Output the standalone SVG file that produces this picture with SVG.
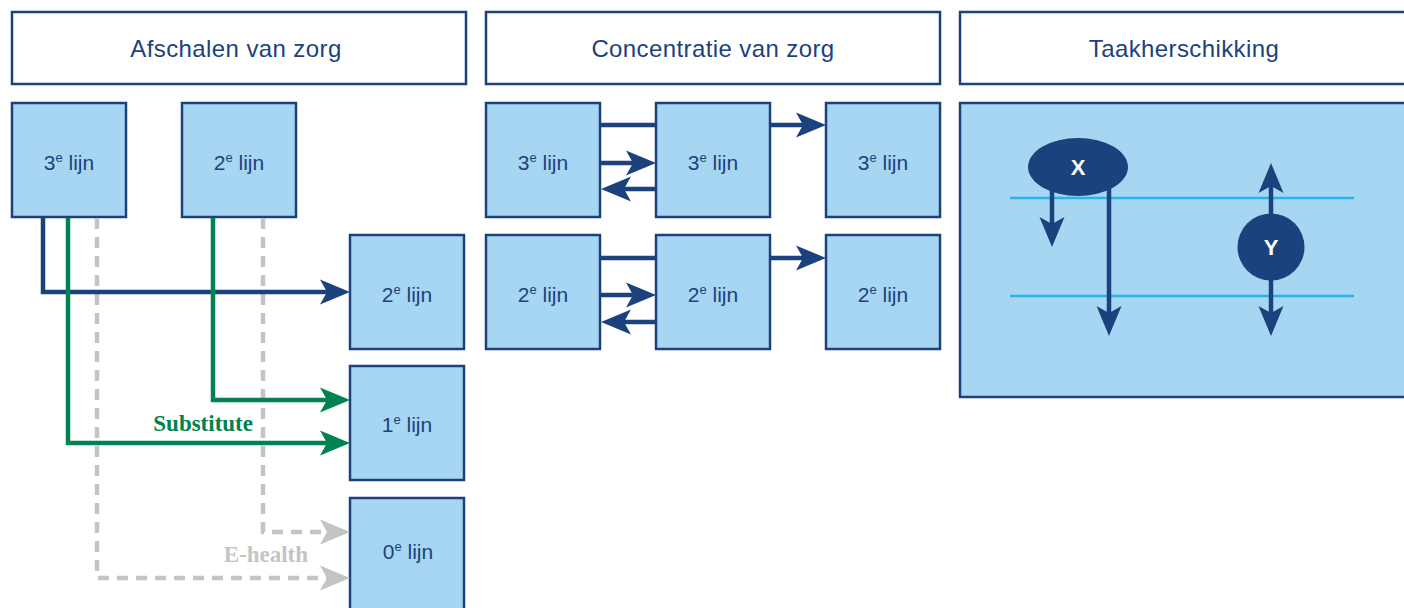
<svg xmlns="http://www.w3.org/2000/svg" width="1404" height="608" viewBox="0 0 1404 608">
  <style>
    .hdr { fill: #ffffff; stroke: #1c427e; stroke-width: 2.5; }
    .box { fill: #a7d6f2; stroke: #1c427e; stroke-width: 2.5; }
    .hdr-t { font-family: "Liberation Sans", Arial, sans-serif; font-size: 24px; fill: #1c427e; text-anchor: middle; letter-spacing: 0.4px; }
    .lbl { font-family: "Liberation Sans", Arial, sans-serif; font-size: 21px; fill: #1c427e; text-anchor: middle; }
    .sup { font-size: 13px; }
    .blue { fill: none; stroke: #1c427e; stroke-width: 4.5; }
    .green { fill: none; stroke: #008251; stroke-width: 4.5; }
    .gray { fill: none; stroke: #c4c4c4; stroke-width: 4.5; stroke-dasharray: 11 8; }
    .level { stroke: #2ab3e6; stroke-width: 2.5; }
    .tag { font-family: "Liberation Serif", "Times New Roman", serif; font-size: 23px; font-weight: bold; text-anchor: end; }
    .dot { fill: #1c427e; }
    .dot-t { font-family: "Liberation Sans", Arial, sans-serif; font-size: 22px; font-weight: bold; fill: #ffffff; text-anchor: middle; }
  </style>
  <defs>
    <marker id="ahBlue" markerUnits="userSpaceOnUse" markerWidth="30" markerHeight="26" viewBox="0 0 30 26" refX="20" refY="13" orient="auto">
      <path d="M0,0.5 L30,13 L0,25.5 L7,13 z" fill="#1c427e"/>
    </marker>
    <marker id="ahGreen" markerUnits="userSpaceOnUse" markerWidth="30" markerHeight="26" viewBox="0 0 30 26" refX="20" refY="13" orient="auto">
      <path d="M0,0.5 L30,13 L0,25.5 L7,13 z" fill="#008251"/>
    </marker>
    <marker id="ahGray" markerUnits="userSpaceOnUse" markerWidth="30" markerHeight="26" viewBox="0 0 30 26" refX="20" refY="13" orient="auto">
      <path d="M0,0.5 L30,13 L0,25.5 L7,13 z" fill="#c4c4c4"/>
    </marker>
  </defs>

  <rect width="1404" height="608" fill="#ffffff"/>

  <!-- column headers -->
  <g id="hdr-afschalen">
    <rect class="hdr" x="12" y="12" width="454" height="72"/>
    <text class="hdr-t" x="236" y="57">Afschalen van zorg</text>
  </g>
  <g id="hdr-concentratie">
    <rect class="hdr" x="486" y="12" width="454" height="72"/>
    <text class="hdr-t" x="713" y="57">Concentratie van zorg</text>
  </g>
  <g id="hdr-taak">
    <rect class="hdr" x="960" y="12" width="450" height="72"/>
    <text class="hdr-t" x="1184" y="57">Taakherschikking</text>
  </g>

  <!-- Afschalen van zorg: nodes -->
  <g id="a-3e">
    <rect class="box" x="12" y="103" width="114" height="114"/>
    <text class="lbl" x="69" y="170">3<tspan class="sup" dy="-8">e</tspan><tspan dy="8"> lijn</tspan></text>
  </g>
  <g id="a-2e-top">
    <rect class="box" x="182" y="103" width="114" height="114"/>
    <text class="lbl" x="239" y="170">2<tspan class="sup" dy="-8">e</tspan><tspan dy="8"> lijn</tspan></text>
  </g>
  <g id="a-2e">
    <rect class="box" x="350" y="235" width="114" height="114"/>
    <text class="lbl" x="407" y="302">2<tspan class="sup" dy="-8">e</tspan><tspan dy="8"> lijn</tspan></text>
  </g>
  <g id="a-1e">
    <rect class="box" x="350" y="366" width="114" height="114"/>
    <text class="lbl" x="407" y="432">1<tspan class="sup" dy="-8">e</tspan><tspan dy="8"> lijn</tspan></text>
  </g>
  <g id="a-0e">
    <rect class="box" x="350" y="498" width="114" height="130"/>
    <text class="lbl" x="408" y="559">0<tspan class="sup" dy="-8">e</tspan><tspan dy="8"> lijn</tspan></text>
  </g>

  <!-- Concentratie van zorg: nodes -->
  <g id="c-3e-a">
    <rect class="box" x="486" y="103" width="114" height="114"/>
    <text class="lbl" x="543" y="170">3<tspan class="sup" dy="-8">e</tspan><tspan dy="8"> lijn</tspan></text>
  </g>
  <g id="c-3e-b">
    <rect class="box" x="656" y="103" width="114" height="114"/>
    <text class="lbl" x="713" y="170">3<tspan class="sup" dy="-8">e</tspan><tspan dy="8"> lijn</tspan></text>
  </g>
  <g id="c-3e-c">
    <rect class="box" x="826" y="103" width="114" height="114"/>
    <text class="lbl" x="883" y="170">3<tspan class="sup" dy="-8">e</tspan><tspan dy="8"> lijn</tspan></text>
  </g>
  <g id="c-2e-a">
    <rect class="box" x="486" y="235" width="114" height="114"/>
    <text class="lbl" x="543" y="302">2<tspan class="sup" dy="-8">e</tspan><tspan dy="8"> lijn</tspan></text>
  </g>
  <g id="c-2e-b">
    <rect class="box" x="656" y="235" width="114" height="114"/>
    <text class="lbl" x="713" y="302">2<tspan class="sup" dy="-8">e</tspan><tspan dy="8"> lijn</tspan></text>
  </g>
  <g id="c-2e-c">
    <rect class="box" x="826" y="235" width="114" height="114"/>
    <text class="lbl" x="883" y="302">2<tspan class="sup" dy="-8">e</tspan><tspan dy="8"> lijn</tspan></text>
  </g>

  <!-- Taakherschikking panel -->
  <g id="taak-panel">
    <rect class="box" x="960" y="103" width="450" height="294"/>
    <line class="level" x1="1010" y1="198" x2="1354" y2="198"/>
    <line class="level" x1="1010" y1="296" x2="1354" y2="296"/>
  </g>

  <!-- connectors -->
  <g id="connectors">
    <!-- E-health (dashed) -->
    <path class="gray" d="M97,218 V578 H340" marker-end="url(#ahGray)"/>
    <path class="gray" d="M263,218 V532 H340" marker-end="url(#ahGray)"/>
    <!-- 3e lijn to 2e lijn -->
    <path class="blue" d="M43,218 V292 H340" marker-end="url(#ahBlue)"/>
    <!-- Substitute -->
    <path class="green" d="M68,218 V443 H340" marker-end="url(#ahGreen)"/>
    <path class="green" d="M213,218 V400 H340" marker-end="url(#ahGreen)"/>

    <!-- Concentratie: 3e lijn row -->
    <line class="blue" x1="601" y1="125" x2="655" y2="125"/>
    <line class="blue" x1="771" y1="125" x2="816" y2="125" marker-end="url(#ahBlue)"/>
    <line class="blue" x1="601" y1="163" x2="646" y2="163" marker-end="url(#ahBlue)"/>
    <line class="blue" x1="655" y1="189" x2="611" y2="189" marker-end="url(#ahBlue)"/>
    <!-- Concentratie: 2e lijn row -->
    <line class="blue" x1="601" y1="258" x2="655" y2="258"/>
    <line class="blue" x1="771" y1="258" x2="816" y2="258" marker-end="url(#ahBlue)"/>
    <line class="blue" x1="601" y1="295" x2="646" y2="295" marker-end="url(#ahBlue)"/>
    <line class="blue" x1="655" y1="322" x2="611" y2="322" marker-end="url(#ahBlue)"/>

    <!-- Taakherschikking shifts -->
    <line class="blue" x1="1052" y1="185" x2="1052" y2="237" marker-end="url(#ahBlue)"/>
    <line class="blue" x1="1109" y1="185" x2="1109" y2="326" marker-end="url(#ahBlue)"/>
    <line class="blue" x1="1271" y1="230" x2="1271" y2="173" marker-end="url(#ahBlue)"/>
    <line class="blue" x1="1271" y1="265" x2="1271" y2="326" marker-end="url(#ahBlue)"/>
  </g>

  <!-- connector labels -->
  <text class="tag" x="253" y="431" fill="#008251">Substitute</text>
  <text class="tag" x="308" y="562" fill="#c4c4c4">E-health</text>

  <!-- task holders -->
  <g id="node-x">
    <ellipse class="dot" cx="1078" cy="167" rx="50" ry="29"/>
    <text class="dot-t" x="1078" y="175">X</text>
  </g>
  <g id="node-y">
    <circle class="dot" cx="1271" cy="247" r="33.5"/>
    <text class="dot-t" x="1271" y="255">Y</text>
  </g>
</svg>
